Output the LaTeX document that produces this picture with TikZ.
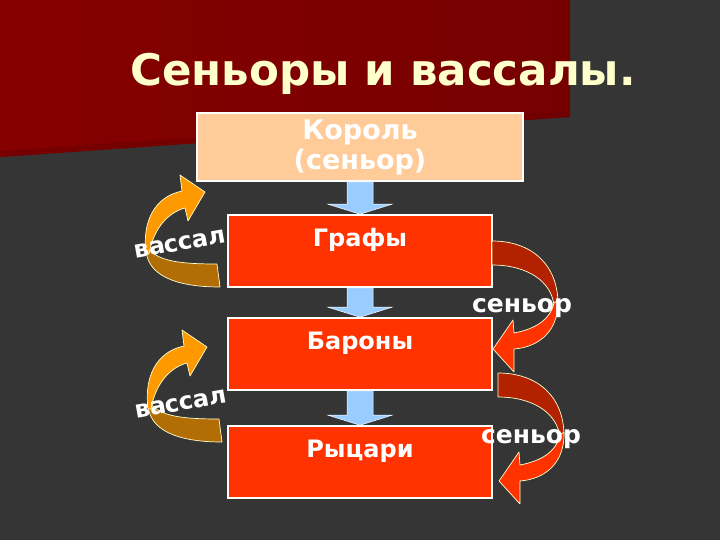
\documentclass[tikz,border=0pt]{standalone}
\usepackage{fontspec}
\setmainfont{DejaVu Sans}
\usetikzlibrary{calc}
\definecolor{bgc}{HTML}{353535}
\definecolor{redL}{HTML}{860000}
\definecolor{redR}{HTML}{760000}
\definecolor{redEdge}{HTML}{6C0000}
\definecolor{titlec}{HTML}{FFFFCC}
\definecolor{peach}{HTML}{FFCC99}
\definecolor{boxred}{HTML}{FF3300}
\definecolor{darkred}{HTML}{B32200}
\definecolor{orangec}{HTML}{FF9900}
\definecolor{brownc}{HTML}{B36D05}
\definecolor{bluec}{HTML}{99CCFF}
\tikzset{
  boxbase/.style={draw=white,line width=1.6pt,minimum width=264,inner sep=4pt,
     text=white,font=\bfseries\fontsize{24}{28}\selectfont},
  lordbox/.style={boxbase,fill=peach,minimum width=326,minimum height=68,align=center,
     font=\bfseries\fontsize{27}{30}\selectfont},
  rankbox/.style={boxbase,fill=boxred,minimum height=72,text height=27pt,text depth=37pt},
  bluearrow/.style={fill=bluec,draw=white,line width=0.5pt},
  bandline/.style={draw=titlec,line width=0.7pt,line join=round},
  lbl/.style={text=white,font=\bfseries\fontsize{25}{28}\selectfont,inner sep=0pt},
  vassalarrow/.pic={
    \filldraw[bandline,fill=brownc] (-74,-39) .. controls (-74,-12) and (-45,0) .. (0,0)
       -- (-3,-23) .. controls (-35,-23) and (-60,-25) .. (-70,-37) -- cycle;
    \filldraw[bandline,fill=orangec] (-74,-33) .. controls (-78,-65) and (-66,-90) .. (-38,-96)
       -- (-40,-112) -- (-15,-95) -- (-32,-66) -- (-35,-79)
       .. controls (-50,-75) and (-66,-61) .. (-71,-33) -- cycle;
  },
  seniorarrow/.pic={
    \filldraw[bandline,fill=darkred] (0,-24) .. controls (40,-24) and (66,0) .. (66,39)
       -- (62,41) .. controls (60,17) and (36,0) .. (0,0) -- cycle;
    \filldraw[bandline,fill=boxred] (66,35) .. controls (67,65) and (48,82) .. (22,84)
       -- (22,107) -- (1,84) -- (21,55) -- (22,68)
       .. controls (43,64) and (58,55) .. (62,38) -- cycle;
  }
}
\newcommand{\blockarrowdown}[2]{%
  \filldraw[bluearrow] ($(#1)+(-13,0)$) -- ($(#2)+(-13,-10)$) -- ($(#2)+(-32,-10)$)
    -- (#2) -- ($(#2)+(32,-10)$) -- ($(#2)+(13,-10)$) -- ($(#1)+(13,0)$) -- cycle;}
\begin{document}
\begin{tikzpicture}[x=1pt,y=-1pt]
\useasboundingbox (0,0) rectangle (720,540);
\fill[bgc] (0,0) rectangle (720,540);
\shade[left color=redL,right color=redR] (0,0) -- (570,0) -- (570,117) -- (0,157) -- cycle;
\fill[redEdge,opacity=0.6] (0,151) -- (570,111) -- (570,117) -- (0,157) -- cycle;

\node[text=titlec,font=\bfseries\fontsize{43.5}{50}\selectfont,anchor=base] (title) at (383,86) {Сеньоры и вассалы.};

\node[lordbox] (k) at (360,147) {Король\\(сеньор)};
\node[rankbox] (g) at (360,251) {Графы};
\node[rankbox] (b) at (360,354) {Бароны};
\node[rankbox] (r) at (360,462) {Рыцари};

\blockarrowdown{k.south}{g.north}
\blockarrowdown{g.south}{b.north}
\blockarrowdown{b.south}{r.north}

\pic at (220,287) {vassalarrow};
\pic at (222,442) {vassalarrow};
\pic at (492,265) {seniorarrow};
\pic at (498,397) {seniorarrow};

\node[lbl,rotate=10,font=\bfseries\fontsize{24}{28}\selectfont] (v1) at (180,244) {вассал};
\node[lbl,rotate=10,font=\bfseries\fontsize{24}{28}\selectfont] (v2) at (181,404) {вассал};
\node[lbl] (s1) at (522,308) {сеньор};
\node[lbl] (s2) at (531,439) {сеньор};
\end{tikzpicture}
\end{document}
